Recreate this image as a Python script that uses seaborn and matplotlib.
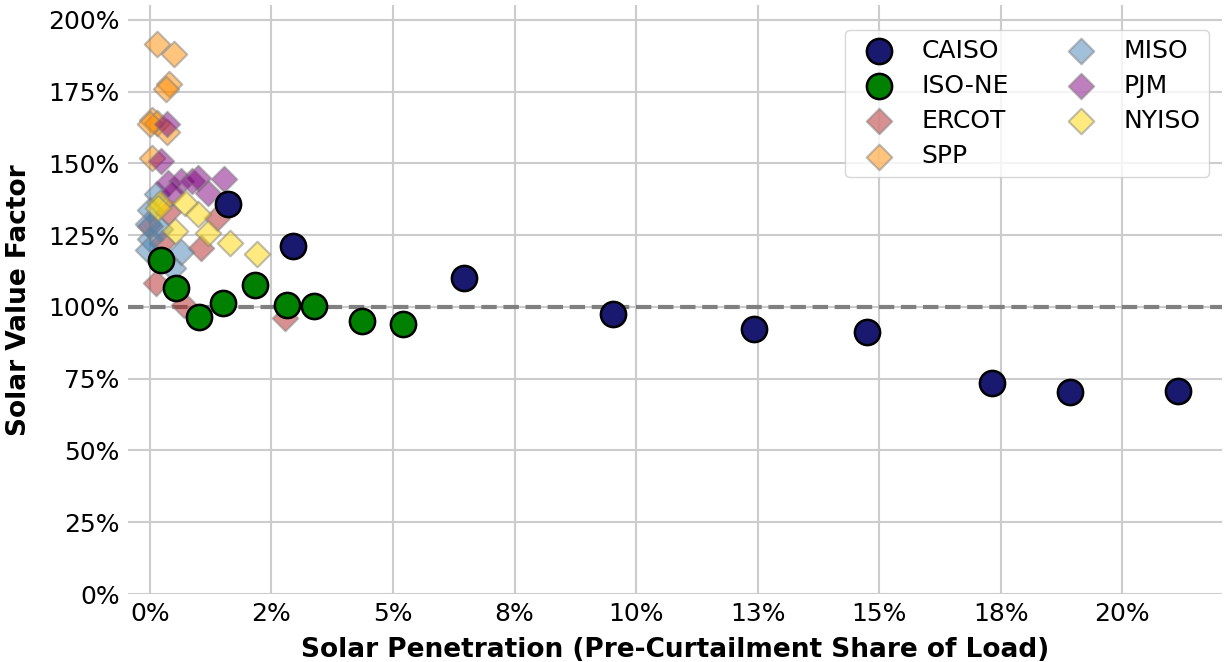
import matplotlib
matplotlib.use("Agg")
import matplotlib.pyplot as plt
import seaborn as sns
import pandas as pd
from matplotlib.ticker import FixedLocator, FixedFormatter

# Solar penetration (share of load) and value factor per market, as fractions
caiso_x = [0.0160, 0.0294, 0.0646, 0.0953, 0.1243, 0.1474, 0.1732, 0.1892, 0.2115]
caiso_y = [1.358, 1.212, 1.101, 0.976, 0.923, 0.913, 0.736, 0.704, 0.708]

isone_x = [0.0022, 0.0053, 0.0100, 0.0151, 0.0217, 0.0282, 0.0337, 0.0436, 0.0521]
isone_y = [1.163, 1.066, 0.965, 1.014, 1.076, 1.007, 1.003, 0.951, 0.941]

ercot_x = [0.0037, 0.0000, 0.0025, 0.0106, 0.0139, 0.0012, 0.0070, 0.0278]
ercot_y = [1.329, 1.283, 1.221, 1.207, 1.311, 1.082, 1.005, 0.962]

spp_x = [0.0014, 0.0049, 0.0039, 0.0033, 0.0004, 0.0014, 0.0035, 0.0004, 0.0000]
spp_y = [1.917, 1.882, 1.778, 1.760, 1.652, 1.642, 1.610, 1.520, 1.638]

miso_x = [0.0014, 0.0000, -0.0004, 0.0000, -0.0004, 0.0065, 0.0047, 0.0020]
miso_y = [1.395, 1.336, 1.290, 1.238, 1.197, 1.190, 1.134, 1.273]

pjm_x = [0.0035, 0.0022, 0.0037, 0.0065, 0.0086, 0.0098, 0.0119, 0.0153, 0.0045]
pjm_y = [1.638, 1.510, 1.430, 1.440, 1.440, 1.450, 1.398, 1.447, 1.398]

nyiso_x = [0.0020, 0.0016, 0.0072, 0.0098, 0.0051, 0.0119, 0.0164, 0.0221]
nyiso_y = [1.363, 1.343, 1.363, 1.325, 1.266, 1.256, 1.221, 1.186]

x_ticks = [0.0, 0.025, 0.05, 0.075, 0.10, 0.125, 0.15, 0.175, 0.20]
x_tick_labels = ["0%", "2%", "5%", "8%", "10%", "13%", "15%", "18%", "20%"]
y_ticks = [0.0, 0.25, 0.5, 0.75, 1.0, 1.25, 1.5, 1.75, 2.0]
y_tick_labels = ["0%", "25%", "50%", "75%", "100%", "125%", "150%", "175%", "200%"]

sns.set_theme(style="whitegrid")
plt.rcParams["font.family"] = ["DejaVu Sans"]
plt.rcParams["text.color"] = "black"
plt.rcParams["axes.labelcolor"] = "black"
plt.rcParams["xtick.color"] = "black"
plt.rcParams["ytick.color"] = "black"

fig = plt.figure(figsize=(12.25, 6.62), dpi=100)
ax = fig.add_axes([0.1045, 0.1027, 0.893, 0.889])

# Large circles for the two highlighted markets
for name, xs, ys, col in [("CAISO", caiso_x, caiso_y, "#191970"),
                          ("ISO-NE", isone_x, isone_y, "#008000")]:
    df = pd.DataFrame({"x": xs, "y": ys})
    sns.scatterplot(data=df, x="x", y="y", ax=ax, s=330, color=col,
                    edgecolor="black", linewidth=1.8, label=name, zorder=4)

# Translucent diamonds for the other markets
for name, xs, ys, col in [("ERCOT", ercot_x, ercot_y, "firebrick"),
                          ("SPP", spp_x, spp_y, "darkorange"),
                          ("MISO", miso_x, miso_y, "steelblue"),
                          ("PJM", pjm_x, pjm_y, "purple"),
                          ("NYISO", nyiso_x, nyiso_y, "gold")]:
    df = pd.DataFrame({"x": xs, "y": ys})
    sns.scatterplot(data=df, x="x", y="y", ax=ax, s=170, marker="D",
                    color=col, alpha=0.5, edgecolor="gray", linewidth=1.5,
                    label=name, zorder=3)

ax.axhline(1.0, color="gray", linestyle="--", linewidth=3, zorder=2)

ax.set_xlim(-0.0045, 0.2205)
ax.set_ylim(0, 2.05)
ax.xaxis.set_major_locator(FixedLocator(x_ticks))
ax.xaxis.set_major_formatter(FixedFormatter(x_tick_labels))
ax.yaxis.set_major_locator(FixedLocator(y_ticks))
ax.yaxis.set_major_formatter(FixedFormatter(y_tick_labels))
ax.tick_params(axis="both", labelsize=18, length=0, pad=6)
ax.grid(True, color="#cccccc", linewidth=1.5)
sns.despine(ax=ax, left=True, bottom=True)

ax.set_xlabel("Solar Penetration (Pre-Curtailment Share of Load)",
              fontsize=19, fontweight="bold", labelpad=8)
ax.set_ylabel("Solar Value Factor", fontsize=19, fontweight="bold", labelpad=12)

ax.legend(loc="upper right", ncol=2, fontsize=18, markerscale=1.0,
          frameon=True, framealpha=0.8, borderpad=0.35, columnspacing=1.9,
          handletextpad=0.7, labelspacing=0.45, bbox_to_anchor=(1.0, 0.98))

fig.savefig("out.png", dpi=100)
